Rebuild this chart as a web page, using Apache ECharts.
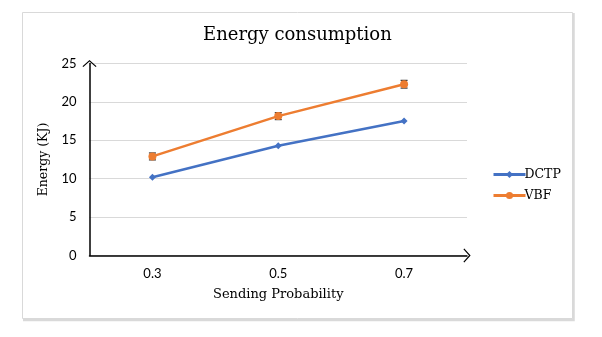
<!DOCTYPE html>
<html>
<head>
<meta charset="utf-8">
<script src="https://cdn.jsdelivr.net/npm/echarts@6/dist/echarts.min.js"></script>
<style>
  html, body { margin: 0; padding: 0; background: #fff; }
  #chart { width: 602px; height: 337px; }
</style>
</head>
<body>
<div id="chart"></div>
<script>
// Sending probability categories
const categories = ['0.3', '0.5', '0.7'];
// Energy consumption (KJ) per protocol
const dctpValues = [10.2, 14.3, 17.5];
const vbfValues = [12.9, 18.15, 22.3];
// Error margins for VBF (± KJ)
const vbfError = [0.45, 0.45, 0.5];
// Y-axis tick values
const yTicks = [0, 5, 10, 15, 20, 25];

const serif = '"DejaVu Serif", "Liberation Serif", serif';
const sans = 'Lato, "Noto Sans", sans-serif';

// Open chevron used as arrow head on both axes
const chevron = 'path://M0,0 L10,9 L8.8,10.3 L0,2.3 L-8.8,10.3 L-10,9 Z';

const errorData = vbfValues.map((v, i) => [i, v - vbfError[i], v + vbfError[i]]);

const chart = echarts.init(document.getElementById('chart'), null, { renderer: 'canvas' });

chart.setOption({
  animation: false,
  backgroundColor: '#fff',
  title: {
    text: 'Energy consumption',
    left: 198,
    top: 21,
    textStyle: { fontFamily: serif, fontSize: 18, fontWeight: 'normal', color: '#000' }
  },
  legend: {
    orient: 'vertical',
    left: 487,
    top: 163,
    itemWidth: 32,
    itemHeight: 9,
    itemGap: 8,
    data: ['DCTP', 'VBF'],
    lineStyle: { width: 3 },
    textStyle: { fontFamily: serif, fontSize: 12.5, color: '#000', padding: [0, 0, 0, -6] }
  },
  grid: { left: 89.5, right: 135, top: 63.5, bottom: 81.5, containLabel: false },
  xAxis: {
    type: 'category',
    data: categories,
    boundaryGap: true,
    name: 'Sending Probability',
    nameLocation: 'middle',
    nameGap: 33,
    nameTextStyle: { fontFamily: serif, fontSize: 13, color: '#000' },
    axisLine: {
      lineStyle: { color: '#000', width: 1.5 },
      symbol: ['none', chevron],
      symbolSize: [14, 9],
      symbolOffset: [0, 0]
    },
    axisTick: { show: false },
    axisLabel: { fontFamily: sans, fontSize: 13, color: '#000', margin: 12 },
    splitLine: { show: false }
  },
  yAxis: {
    type: 'value',
    min: yTicks[0],
    max: yTicks[yTicks.length - 1],
    interval: 5,
    name: 'Energy (KJ)',
    nameLocation: 'middle',
    nameGap: 29,
    nameTextStyle: { fontFamily: serif, fontSize: 12.5, color: '#000' },
    axisLine: {
      show: true,
      lineStyle: { color: '#000', width: 1.5 },
      symbol: ['none', chevron],
      symbolSize: [14, 9],
      symbolOffset: [0, 0]
    },
    axisTick: { show: false },
    axisLabel: { fontFamily: sans, fontSize: 13, color: '#000', margin: 13 },
    splitLine: { lineStyle: { color: '#d9d9d9', width: 1 } }
  },
  graphic: [
    {
      type: 'rect',
      shape: { x: 22.5, y: 12.5, width: 550, height: 306 },
      style: { fill: 'none', stroke: '#d9d9d9', lineWidth: 1 },
      silent: true
    },
    {
      type: 'polyline',
      shape: { points: [[573.5, 13], [573.5, 320], [23, 320]] },
      style: { stroke: '#d9d9d9', lineWidth: 2.5, fill: 'none' },
      silent: true
    }
  ],
  series: [
    {
      name: 'VBF error',
      type: 'custom',
      data: errorData,
      z: 2,
      renderItem: function (params, api) {
        const x = api.value(0);
        const lo = api.coord([x, api.value(1)]);
        const hi = api.coord([x, api.value(2)]);
        const w = 3.5;
        const style = { stroke: '#404040', lineWidth: 1.3, fill: 'none' };
        return {
          type: 'group',
          children: [
            { type: 'line', shape: { x1: lo[0], y1: lo[1], x2: hi[0], y2: hi[1] }, style: style },
            { type: 'line', shape: { x1: lo[0] - w, y1: lo[1], x2: lo[0] + w, y2: lo[1] }, style: style },
            { type: 'line', shape: { x1: hi[0] - w, y1: hi[1], x2: hi[0] + w, y2: hi[1] }, style: style }
          ]
        };
      }
    },
    {
      name: 'DCTP',
      type: 'line',
      data: dctpValues,
      symbol: 'diamond',
      symbolSize: 7,
      lineStyle: { color: '#4472C4', width: 2.5 },
      itemStyle: { color: '#4472C4' },
      z: 3
    },
    {
      name: 'VBF',
      type: 'line',
      data: vbfValues,
      symbol: 'circle',
      symbolSize: 8,
      lineStyle: { color: '#ED7D31', width: 2.5 },
      itemStyle: { color: '#ED7D31' },
      z: 3
    }
  ]
});
</script>
</body>
</html>
